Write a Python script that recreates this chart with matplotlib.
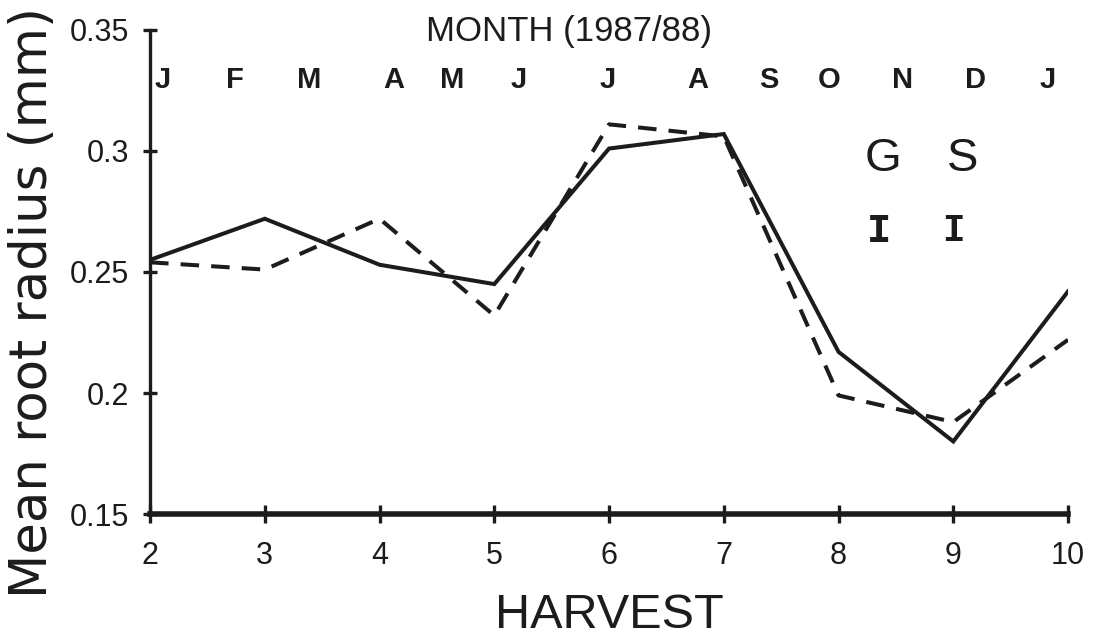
import matplotlib
matplotlib.use("Agg")
import matplotlib.pyplot as plt

# mean root radius per harvest (two treatments)
harvest = [2, 3, 4, 5, 6, 7, 8, 9, 10]
radius_solid = [0.255, 0.272, 0.253, 0.245, 0.301, 0.307, 0.217, 0.180, 0.242]
radius_dashed = [0.254, 0.251, 0.272, 0.232, 0.311, 0.306, 0.199, 0.188, 0.222]

months = ["J", "F", "M", "A", "M", "J", "J", "A", "S", "O", "N", "D", "J"]
month_pos = [2.11, 2.74, 3.39, 4.12, 4.63, 5.21, 5.99, 6.77, 7.39, 7.92, 8.56, 9.19, 9.82]

yticks = [0.15, 0.2, 0.25, 0.3, 0.35]
ytick_labels = ["0.15", "0.2", "0.25", "0.3", "0.35"]

ink = "#1c1c1c"
plt.rcParams["font.family"] = ["Liberation Sans", "DejaVu Sans"]

fig = plt.figure(figsize=(10.96, 6.37), dpi=100)
ax = fig.add_axes([0.1369, 0.193, 0.8376, 0.760])

ax.plot(harvest, radius_solid, color=ink, lw=2.9, solid_joinstyle="miter")
ax.plot(harvest, radius_dashed, color=ink, lw=2.9, dashes=(4.6, 3.0))

ax.set_xlim(2, 10)
ax.set_ylim(0.15, 0.35)
ax.set_xticks(harvest)
ax.set_xticklabels([str(h) for h in harvest], fontsize=22)
ax.set_yticks(yticks)
ax.set_yticklabels(ytick_labels, fontsize=22)

for side in ("top", "right"):
    ax.spines[side].set_visible(False)
ax.spines["left"].set_linewidth(2.4)
ax.spines["bottom"].set_linewidth(4)
ax.spines["left"].set_color(ink)
ax.spines["bottom"].set_color(ink)
ax.tick_params(axis="x", direction="inout", length=13, width=2.4, pad=13,
               color=ink, labelcolor=ink)
ax.tick_params(axis="y", direction="inout", length=10, width=2.4, pad=10,
               color=ink, labelcolor=ink)

ax.set_xlabel("HARVEST", fontsize=35, labelpad=16, color=ink)
ax.set_ylabel("Mean root radius (mm)", fontsize=37, family="DejaVu Sans",
              color=ink)
ax.yaxis.set_label_coords(-0.100, 0.438)

# month letters along the top
for m, x in zip(months, month_pos):
    ax.text(x, 0.3293, m, ha="center", va="center", fontsize=21,
            fontweight="bold", color=ink)
ax.text(5.65, 0.3492, "MONTH (1987/88)", ha="center", va="center",
        fontsize=25, color=ink)

# G / S labels with their bars
ax.text(8.39, 0.2967, "G", ha="center", va="center", fontsize=34, color=ink)
ax.text(9.08, 0.2967, "S", ha="center", va="center", fontsize=34, color=ink)
ax.text(8.35, 0.2671, "I", ha="center", va="center", fontsize=29,
        family="Liberation Mono", fontweight="bold", color=ink)
ax.text(9.00, 0.2671, "I", ha="center", va="center", fontsize=27,
        family="Liberation Mono", fontweight="bold", color=ink)

fig.savefig("out.png", dpi=100)
